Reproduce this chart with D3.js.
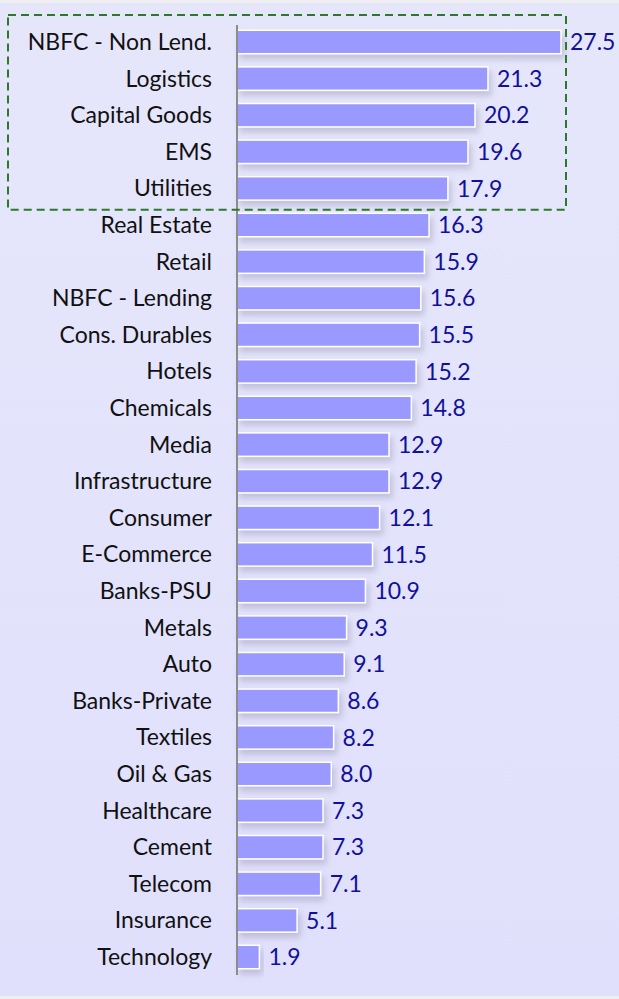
<!DOCTYPE html>
<html><head><meta charset="utf-8">
<script src="https://cdn.jsdelivr.net/npm/d3@7"></script>
<style>body{margin:0;background:#efeff2;}svg{display:block;}</style>
</head><body>
<svg id="c" width="619" height="999"></svg>
<script>
const categories = ["NBFC - Non Lend.","Logistics","Capital Goods","EMS","Utilities","Real Estate","Retail","NBFC - Lending","Cons. Durables","Hotels","Chemicals","Media","Infrastructure","Consumer","E-Commerce","Banks-PSU","Metals","Auto","Banks-Private","Textiles","Oil & Gas","Healthcare","Cement","Telecom","Insurance","Technology"];
const values = [27.5,21.3,20.2,19.6,17.9,16.3,15.9,15.6,15.5,15.2,14.8,12.9,12.9,12.1,11.5,10.9,9.3,9.1,8.6,8.2,8.0,7.3,7.3,7.1,5.1,1.9];
const highlighted = ["NBFC - Non Lend.","Logistics","Capital Goods","EMS","Utilities"];

const svg = d3.select("#c");
const defs = svg.append("defs");
const grad = defs.append("linearGradient").attr("id","bg").attr("x1",0).attr("y1",0).attr("x2",0).attr("y2",1);
grad.append("stop").attr("offset","0%").attr("stop-color","#e6e6fb");
grad.append("stop").attr("offset","100%").attr("stop-color","#e0e0fc");
const f = defs.append("filter").attr("id","sh").attr("x","-10%").attr("y","-30%").attr("width","130%").attr("height","190%");
f.append("feDropShadow").attr("dx",3).attr("dy",5).attr("stdDeviation",3).attr("flood-color","#8080a0").attr("flood-opacity",0.35);

svg.append("rect").attr("x",0).attr("y",3).attr("width",619).attr("height",993).attr("fill","url(#bg)");

const x0 = 237;
const x = d3.scaleLinear().domain([0, 27.5]).range([x0, 561]);
const y = d3.scaleBand().domain(categories).range([23.7, 975.3]).paddingInner(0.36).paddingOuter(0.18);

const rows = categories.map((c,i)=>({c, v: values[i]}));
const font = "Lato, 'Open Sans', sans-serif";

svg.append("g").selectAll("rect").data(rows).join("rect")
  .attr("x", x(0)).attr("y", d=>y(d.c))
  .attr("width", d=>x(d.v)-x(0)).attr("height", y.bandwidth())
  .attr("fill","#9999ff").attr("stroke","#ffffff").attr("stroke-width",1.5)
  .attr("filter","url(#sh)");

const axis = d3.axisLeft(y).tickSize(0).tickPadding(25);
const ag = svg.append("g").attr("transform",`translate(${x0},0)`).call(axis);
ag.select(".domain").attr("stroke","#8c8c8c").attr("stroke-width",2).attr("d",`M0,25V975`);
ag.selectAll("text").attr("font-family",font).attr("font-size",23).attr("fill","#111").attr("dy","0.35em");

svg.append("g").selectAll("text").data(rows).join("text")
  .attr("x", d=>x(d.v)+9).attr("y", d=>y(d.c)+y.bandwidth()/2)
  .attr("dy","0.36em")
  .attr("font-family",font).attr("font-size",23).attr("fill","#10109a")
  .text(d=>d3.format(".1f")(d.v));

// highlight box around the top categories
const last = highlighted[highlighted.length-1];
const hTop = 15;
const hBot = y(last) + y.bandwidth() + (y.step()-y.bandwidth())/2 + 3;
svg.append("rect").attr("x",8).attr("y",hTop).attr("width",x(27.5)+5-8).attr("height",hBot-hTop)
  .attr("fill","none").attr("stroke","#2a7a2a").attr("stroke-width",2).attr("stroke-dasharray","8,5");
</script>
</body></html>
